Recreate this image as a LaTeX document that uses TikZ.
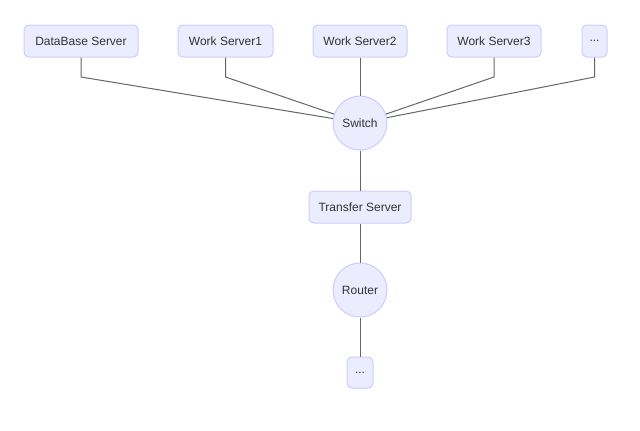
\documentclass[tikz,border=0pt]{standalone}
\usepackage{fontspec}
\setmainfont{Liberation Sans}
\begin{document}
\begin{tikzpicture}[x=0.75pt,y=-0.75pt,
  every node/.style={font=\fontsize{9}{11}\selectfont, text=txt},
  box/.style={draw=nodeborder, fill=nodefill, line width=0.75pt, rounded corners=3.5pt,
    minimum height=24pt, inner xsep=0pt, inner ysep=0pt},
  circ/.style={draw=nodeborder, fill=nodefill, line width=0.75pt, circle,
    minimum size=40.5pt, inner sep=0pt},
  link/.style={draw=linkc, line width=0.75pt}]
\definecolor{nodefill}{HTML}{ECECFF}
\definecolor{nodeborder}{HTML}{CCCCFF}
\definecolor{txt}{HTML}{333333}
\definecolor{linkc}{HTML}{666666}
\useasboundingbox (0,0) rectangle (640,430);
\fill[white] (0,0) rectangle (640,430);
\coordinate (bend) at (0,77);
% links first
\node[box, minimum width=85.5pt] (db) at (81,41) {DataBase Server};
\node[box, minimum width=71.25pt] (ws1) at (225.5,41) {Work Server1};
\node[box, minimum width=70.5pt] (ws2) at (360,41) {Work Server2};
\node[box, minimum width=70.5pt] (ws3) at (494,41) {Work Server3};
\node[box, minimum width=18.75pt] (d1) at (594.5,41) {...};
\node[circ] (sw) at (360,123) {Switch};
\node[box, minimum width=76.5pt] (ts) at (360,207) {Transfer Server};
\node[circ] (rt) at (360,290) {Router};
\node[box, minimum width=19.5pt, minimum height=23.25pt] (d2) at (360,372.5) {...};
\begin{scope}[on background layer/.try]
\end{scope}
\draw[link] (db.south) -- (db.south |- bend) -- (sw);
\draw[link] (ws1.south) -- (ws1.south |- bend) -- (sw);
\draw[link] (ws2) -- (sw);
\draw[link] (ws3.south) -- (ws3.south |- bend) -- (sw);
\draw[link] (d1.south) -- (d1.south |- bend) -- (sw);
\draw[link] (sw) -- (ts);
\draw[link] (ts) -- (rt);
\draw[link] (rt) -- (d2);
\end{tikzpicture}
\end{document}
